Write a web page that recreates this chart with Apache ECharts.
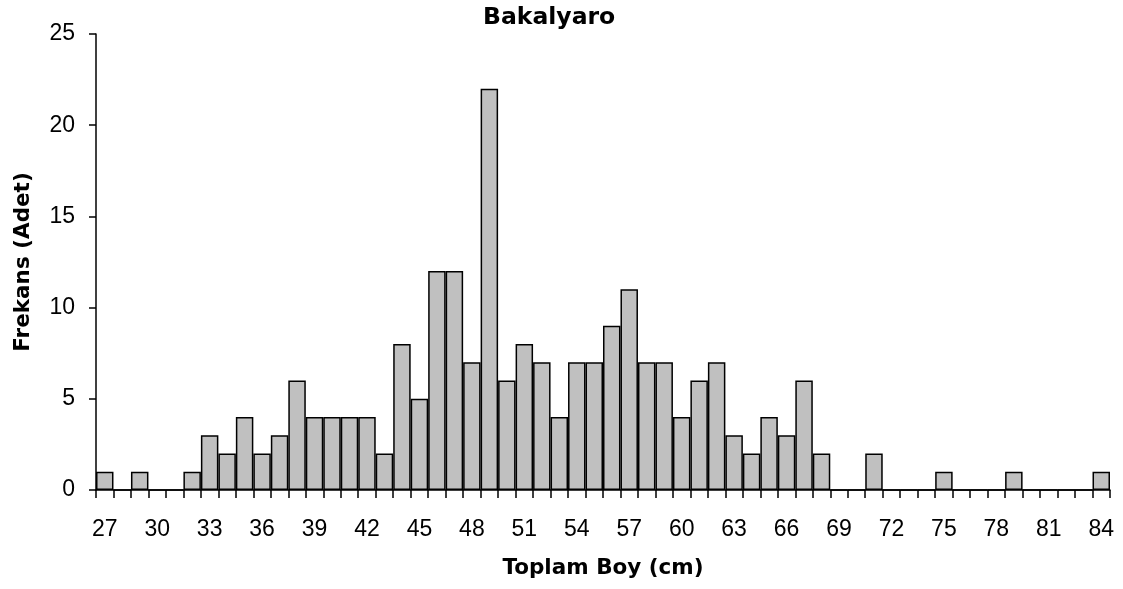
<!DOCTYPE html>
<html>
<head>
<meta charset="utf-8">
<script src="https://cdn.jsdelivr.net/npm/echarts@6/dist/echarts.min.js"></script>
<style>html,body{margin:0;padding:0;background:#fff}#c{width:1123px;height:589px}</style>
</head>
<body>
<div id="c"></div>
<script>
const categories = ['27','28','29','30','31','32','33','34','35','36','37','38','39','40','41','42','43','44','45','46','47','48','49','50','51','52','53','54','55','56','57','58','59','60','61','62','63','64','65','66','67','68','69','70','71','72','73','74','75','76','77','78','79','80','81','82','83','84'];
const frequencies = [1,0,1,0,0,1,3,2,4,2,3,6,4,4,4,4,2,8,5,12,12,7,22,6,8,7,4,7,7,9,11,7,7,4,6,7,3,2,4,3,6,2,0,0,2,0,0,0,1,0,0,0,1,0,0,0,0,1];
const yTicks = [0,5,10,15,20,25];
const chartTitle = 'Bakalyaro';
const xTitle = 'Toplam Boy (cm)';
const yTitle = 'Frekans (Adet)';

const chart = echarts.init(document.getElementById('c'), null, {renderer:'canvas'});
chart.setOption({
  animation: false,
  backgroundColor: '#ffffff',
  title: {
    text: chartTitle, left: 483, top: 6, padding: 0,
    textStyle: {fontFamily: 'DejaVu Sans', fontWeight: 'bold', fontSize: 23.5, color: '#000'}
  },
  grid: {left: 96, right: 13, top: 34, bottom: 99, containLabel: false},
  xAxis: {
    type: 'category', data: categories, boundaryGap: true,
    name: xTitle, nameLocation: 'middle', nameGap: 67,
    nameTextStyle: {fontFamily: 'DejaVu Sans', fontWeight: 'bold', fontSize: 21.5, color: '#000'},
    axisLine: {lineStyle: {color: '#000', width: 1.5}},
    axisTick: {show: true, interval: 0, alignWithLabel: false, length: 8, lineStyle: {color: '#000', width: 1.5}},
    axisLabel: {interval: 2, margin: 28, fontFamily: 'Liberation Sans, Arial', fontSize: 23, color: '#000'},
    splitLine: {show: false}
  },
  yAxis: {
    type: 'value', min: yTicks[0], max: yTicks[yTicks.length-1], interval: 5,
    name: yTitle, nameLocation: 'middle', nameGap: 62,
    nameTextStyle: {fontFamily: 'DejaVu Sans', fontWeight: 'bold', fontSize: 21.5, color: '#000'},
    axisLine: {show: true, lineStyle: {color: '#000', width: 1.5}},
    axisTick: {show: true, length: 7, lineStyle: {color: '#000', width: 1.5}},
    axisLabel: {margin: 21, fontFamily: 'Liberation Sans, Arial', fontSize: 23, color: '#000'},
    splitLine: {show: false}
  },
  series: [{
    type: 'bar', data: frequencies, barCategoryGap: '0%',
    itemStyle: {color: '#c0c0c0', borderColor: '#000', borderWidth: 1.5}
  }]
});
</script>
</body>
</html>
